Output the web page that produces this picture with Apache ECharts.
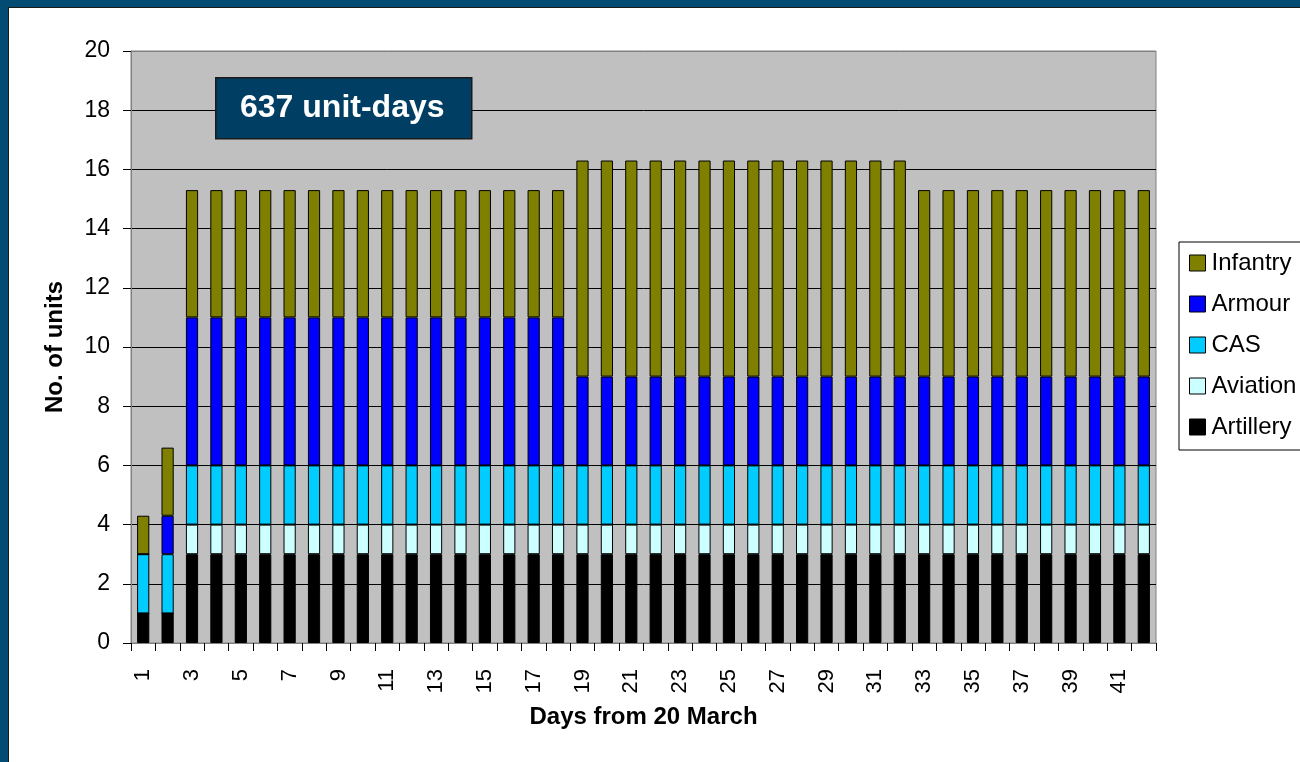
<!DOCTYPE html>
<html>
<head>
<meta charset="utf-8">
<script src="https://cdn.jsdelivr.net/npm/echarts@6/dist/echarts.min.js"></script>
<style>
  html, body { margin: 0; padding: 0; background: #ffffff; }
  #frame {
    position: relative; width: 1300px; height: 762px; box-sizing: border-box;
    border-left: 8px solid #024b72; border-top: 7px solid #024b72;
    background: #ffffff; overflow: hidden;
  }
  #frame::before {
    content: ""; position: absolute; left: 0; top: 0; right: 0; bottom: 0;
    border-left: 1px solid #1a1a1a; border-top: 1px solid #1a1a1a; pointer-events: none; z-index: 2;
  }
  #chart { position: absolute; left: -8px; top: -7px; width: 1300px; height: 762px; }
</style>
</head>
<body>
<div id="frame"><div id="chart"></div></div>
<script>
// Days from 20 March
const days = ['1','2','3','4','5','6','7','8','9','10','11','12','13','14','15','16','17','18','19','20','21',
              '22','23','24','25','26','27','28','29','30','31','32','33','34','35','36','37','38','39','40','41','42'];

// Units committed per day, by type (stacked bottom to top)
const artillery = [1, 1, 3, 3, 3, 3, 3, 3, 3, 3, 3, 3, 3, 3, 3, 3, 3, 3, 3, 3, 3,
                   3, 3, 3, 3, 3, 3, 3, 3, 3, 3, 3, 3, 3, 3, 3, 3, 3, 3, 3, 3, 3];
const aviation  = [0, 0, 1, 1, 1, 1, 1, 1, 1, 1, 1, 1, 1, 1, 1, 1, 1, 1, 1, 1, 1,
                   1, 1, 1, 1, 1, 1, 1, 1, 1, 1, 1, 1, 1, 1, 1, 1, 1, 1, 1, 1, 1];
const cas       = [2, 2, 2, 2, 2, 2, 2, 2, 2, 2, 2, 2, 2, 2, 2, 2, 2, 2, 2, 2, 2,
                   2, 2, 2, 2, 2, 2, 2, 2, 2, 2, 2, 2, 2, 2, 2, 2, 2, 2, 2, 2, 2];
const armour    = [0, 1.3, 5, 5, 5, 5, 5, 5, 5, 5, 5, 5, 5, 5, 5, 5, 5, 5, 3, 3, 3,
                   3, 3, 3, 3, 3, 3, 3, 3, 3, 3, 3, 3, 3, 3, 3, 3, 3, 3, 3, 3, 3];
const infantry  = [1.3, 2.3, 4.3, 4.3, 4.3, 4.3, 4.3, 4.3, 4.3, 4.3, 4.3, 4.3, 4.3, 4.3, 4.3, 4.3, 4.3, 4.3, 7.3, 7.3, 7.3,
                   7.3, 7.3, 7.3, 7.3, 7.3, 7.3, 7.3, 7.3, 7.3, 7.3, 7.3, 6.3, 6.3, 6.3, 6.3, 6.3, 6.3, 6.3, 6.3, 6.3, 6.3];

const legendOrder = ['Infantry', 'Armour', 'CAS', 'Aviation', 'Artillery'];
const totalLabel = '637 unit-days';

const FONT = "'Liberation Sans', Arial, sans-serif";

const chart = echarts.init(document.getElementById('chart'), null, { renderer: 'canvas' });

function stackSeries(name, data, color) {
  return {
    name: name,
    type: 'bar',
    stack: 'units',
    data: data,
    barWidth: '50%',
    itemStyle: { color: color, borderColor: '#000000', borderWidth: 1 },
    emphasis: { disabled: true },
    animation: false
  };
}

// split lines at 0..20: the one at 20 coincides with the plot border
const splitColors = ['#000', '#000', '#000', '#000', '#000', '#000', '#000', '#000', '#000', '#000', '#808080'];

chart.setOption({
  backgroundColor: 'transparent',
  animation: false,
  textStyle: { fontFamily: FONT },
  grid: {
    left: 131, right: 144, top: 51, bottom: 119,
    show: true, backgroundColor: '#c0c0c0', borderColor: '#808080', borderWidth: 1
  },
  legend: {
    data: legendOrder,
    orient: 'vertical',
    left: 1179, top: 242,
    padding: [9, 24, 11, 10],
    itemGap: 17,
    itemWidth: 16, itemHeight: 16,
    icon: 'rect',
    borderColor: '#000000', borderWidth: 1,
    backgroundColor: '#ffffff',
    textStyle: { fontFamily: FONT, fontSize: 24, color: '#000000', padding: [0, 0, 0, 1] },
    itemStyle: { borderColor: '#000000', borderWidth: 1 }
  },
  xAxis: {
    type: 'category',
    data: days,
    name: 'Days from 20 March',
    nameLocation: 'middle',
    nameGap: 62,
    nameTextStyle: { fontFamily: FONT, fontSize: 24, fontWeight: 'bold', color: '#000000' },
    axisLine: { lineStyle: { color: '#808080', width: 1 } },
    axisTick: { show: true, length: 8, alignWithLabel: false, interval: 0, lineStyle: { color: '#000000' } },
    axisLabel: { interval: 1, rotate: 90, margin: 26, fontFamily: FONT, fontSize: 22, color: '#000000' },
    splitLine: { show: false }
  },
  yAxis: {
    type: 'value',
    min: 0, max: 20, interval: 2,
    name: 'No. of units',
    nameLocation: 'middle',
    nameGap: 64,
    nameRotate: 90,
    nameTextStyle: { fontFamily: FONT, fontSize: 24, fontWeight: 'bold', color: '#000000' },
    axisLine: { show: true, lineStyle: { color: '#808080', width: 1 } },
    axisTick: { show: true, length: 8, inside: false, lineStyle: { color: '#000000' } },
    axisLabel: { margin: 21, fontFamily: FONT, fontSize: 23, color: '#000000' },
    splitLine: { show: true, lineStyle: { color: splitColors, width: 1 } }
  },
  series: [
    stackSeries('Artillery', artillery, '#000000'),
    stackSeries('Aviation', aviation, '#ccffff'),
    stackSeries('CAS', cas, '#00ccff'),
    stackSeries('Armour', armour, '#0000ff'),
    stackSeries('Infantry', infantry, '#808000')
  ],
  graphic: [
    {
      type: 'rect',
      left: 215, top: 77,
      z: 100, zlevel: 1,
      shape: { x: 0, y: 0, width: 256, height: 61 },
      style: { fill: '#003f63', stroke: '#1a1a1a', lineWidth: 1.5 }
    },
    {
      type: 'text',
      left: 240, top: 92,
      z: 101, zlevel: 1,
      style: {
        text: totalLabel, fill: '#ffffff',
        font: "bold 32px 'Liberation Sans', Arial, sans-serif"
      }
    }
  ]
});
</script>
</body>
</html>
